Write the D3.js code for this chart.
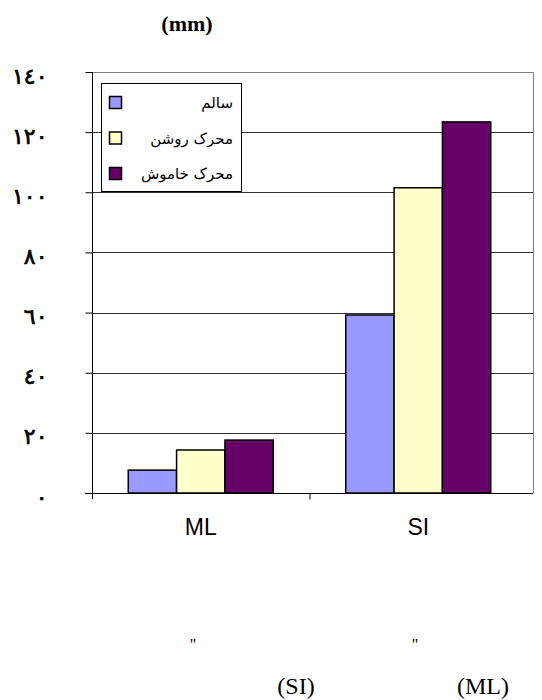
<!DOCTYPE html>
<html lang="fa">
  <head>
    <meta charset="utf-8">
    <title>Bar Chart</title>
    <style>
      body { margin: 0; background: #fff; }
      svg { display: block; }
      .serif { font-family: "Liberation Serif", "DejaVu Serif", serif; }
      .sans { font-family: "Liberation Sans", Arial, "DejaVu Sans", sans-serif; }
    </style>
  </head>
  <body>
    <script src="https://d3js.org/d3.v7.min.js"></script>
    <script>
      // data
      const categories = ["ML", "SI"];
      const seriesNames = ["سالم", "محرک روشن", "محرک خاموش"];
      const healthy = [7.6, 59.2];
      const engineOn = [14.3, 101.5];
      const engineOff = [17.6, 123.4];
      const yTicks = [0, 20, 40, 60, 80, 100, 120, 140];
      const yTickLabels = ["٠", "٢٠", "٤٠", "٦٠", "٨٠", "١٠٠", "١٢٠", "١٤٠"];
      const colors = ["#9999ff", "#ffffcc", "#660066"];

      const w = 542, h = 700;
      const pLeft = 92, pRight = 533, pTop = 72, pBottom = 493;

      const series = [healthy, engineOn, engineOff];

      const svg = d3.select("body").append("svg")
        .attr("width", w)
        .attr("height", h);

      const y = d3.scaleLinear().domain([0, 140]).range([pBottom, pTop]);
      const x0 = d3.scaleBand().domain(categories).range([pLeft, 527]);
      const groupW = x0.bandwidth() * 3 / 4.5;
      const x1 = d3.scaleBand().domain(d3.range(3)).range([0, groupW]);

      // title
      svg.append("text")
        .attr("class", "serif")
        .attr("x", 187).attr("y", 31)
        .attr("text-anchor", "middle")
        .attr("font-size", 22).attr("font-weight", "bold")
        .text("(mm)");

      // gridlines
      svg.append("g").selectAll("line")
        .data(yTicks.filter(d => d > 0))
        .enter().append("line")
        .attr("x1", pLeft).attr("x2", pRight)
        .attr("y1", d => Math.round(y(d)) + 0.5)
        .attr("y2", d => Math.round(y(d)) + 0.5)
        .attr("stroke", d => d === 140 ? "#808080" : "#333")
        .attr("stroke-width", 1);

      // right frame
      svg.append("line")
        .attr("x1", pRight + 0.5).attr("x2", pRight + 0.5)
        .attr("y1", pTop).attr("y2", pBottom)
        .attr("stroke", "#808080");

      // bars
      const groups = svg.append("g").selectAll("g")
        .data(categories)
        .enter().append("g")
        .attr("transform", d => `translate(${x0(d) + (x0.bandwidth() - groupW) / 2},0)`);

      groups.selectAll("rect")
        .data((d, ci) => series.map((s, si) => ({ si: si, v: s[ci] })))
        .enter().append("rect")
        .attr("x", d => x1(d.si))
        .attr("width", x1.bandwidth())
        .attr("y", d => y(d.v))
        .attr("height", d => y(0) - y(d.v))
        .attr("fill", d => colors[d.si])
        .attr("stroke", "#000")
        .attr("stroke-width", 1.5);

      // y axis
      const yAxis = d3.axisLeft(y)
        .tickValues(yTicks)
        .tickFormat((d, i) => yTickLabels[i])
        .tickSize(7)
        .tickPadding(38);

      const ya = svg.append("g")
        .attr("transform", `translate(${pLeft + 0.5},0)`)
        .call(yAxis);
      ya.select(".domain").attr("stroke", "#000").attr("d", `M0,${pTop}V${pBottom + 6}`);
      ya.selectAll(".tick line").attr("stroke", "#000");
      ya.selectAll(".tick text")
        .attr("font-family", "'DejaVu Sans', sans-serif")
        .attr("font-size", 22)
        .attr("fill", "#000")
        .attr("stroke", "#000")
        .attr("stroke-width", 0.7)
        .attr("dy", "0.5em");

      // x axis
      const xa = svg.append("g")
        .attr("transform", `translate(0,${Math.round(pBottom) + 0.5})`)
        .call(d3.axisBottom(x0).tickSize(0).tickPadding(25));
      xa.select(".domain").attr("stroke", "#000").attr("d", `M${pLeft - 7},0H${pRight}`);
      xa.selectAll(".tick text")
        .attr("class", "sans")
        .attr("font-size", 23)
        .attr("fill", "#000");
      // category separator tick
      xa.append("line")
        .attr("x1", x0("SI") + 0.5).attr("x2", x0("SI") + 0.5)
        .attr("y1", 0).attr("y2", 6)
        .attr("stroke", "#000");

      // legend
      const lg = svg.append("g");
      lg.append("rect")
        .attr("x", 101.5).attr("y", 83.5)
        .attr("width", 140).attr("height", 108)
        .attr("fill", "#fff").attr("stroke", "#000");
      const items = lg.selectAll("g.item")
        .data(seriesNames)
        .enter().append("g")
        .attr("class", "item")
        .attr("transform", (d, i) => `translate(0,${103 + i * 35.5})`);
      items.append("rect")
        .attr("x", 109.5).attr("y", -6.5)
        .attr("width", 12).attr("height", 12)
        .attr("fill", (d, i) => colors[i])
        .attr("stroke", "#000").attr("stroke-width", 1.5);
      items.append("text")
        .attr("x", 233).attr("y", 5)
        .attr("text-anchor", "end")
        .attr("font-family", "'DejaVu Sans', sans-serif")
        .attr("font-size", 15)
        .text(d => d);

      // caption remnants
      svg.selectAll("text.q")
        .data([193, 415])
        .enter().append("text")
        .attr("class", "serif q")
        .attr("x", d => d).attr("y", 650)
        .attr("text-anchor", "middle")
        .attr("font-size", 16)
        .text('"');
      svg.selectAll("text.cap")
        .data(["(SI)", "(ML)"])
        .enter().append("text")
        .attr("class", "serif cap")
        .attr("x", (d, i) => i === 0 ? 296 : 483)
        .attr("y", 694)
        .attr("text-anchor", "middle")
        .attr("font-size", 24)
        .text(d => d);
    </script>
  </body>
</html>
